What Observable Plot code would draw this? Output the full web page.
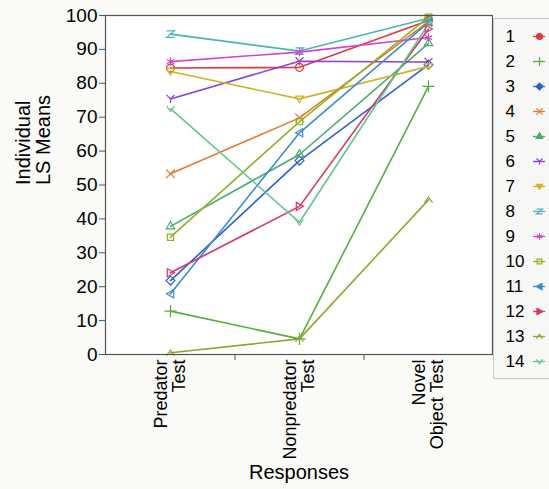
<!DOCTYPE html>
<html><head><meta charset="utf-8">
<script src="https://cdn.jsdelivr.net/npm/d3@7"></script>
<script src="https://cdn.jsdelivr.net/npm/@observablehq/plot@0.6"></script>
<style>
body{margin:0;background:#fafaf7;font-family:"Liberation Sans",Arial,sans-serif;}
#wrap{position:relative;width:549px;height:489px;overflow:hidden;}
#wrap > svg{position:absolute;left:0;top:0;}
#legend{position:absolute;left:493px;top:15px;width:56px;}
#legend svg{max-width:none;}
</style></head><body><div id="wrap"><div id="legend"></div></div>
<script>
const responses = ["Predator\nTest", "Nonpredator\nTest", "Novel\nObject Test"];
const subjects = ["1","2","3","4","5","6","7","8","9","10","11","12","13","14"];
const predator    = [84.5, 12.8, 21.8, 53.3, 37.8, 75.4, 83.5, 94.5, 86.4, 34.6, 17.9, 24.1, 0.5, 72.5];
const nonpredator = [84.7,  4.6, 57.2, 69.8, 59.0, 86.5, 75.4, 89.5, 89.2, 68.7, 65.4, 43.7, 4.6, 39.0];
const novel       = [98.5, 79.1, 85.5, 98.2, 91.8, 86.3, 85.0, 99.2, 93.5, 99.5, 98.0, 96.0, 45.6, 97.5];
const colors = ["#e0393e","#52b13a","#2f5fd6","#e8792d","#43ad6c","#8b3fe0","#cdb52a","#4ab5b3","#d245d2","#8fb423","#3a8cd4","#d93468","#9ca22d","#5dc98b"];
const filledInLegend = ["1","3","5","7","11","12"];

const sym = f => ({draw(c, size){ const r = Math.sqrt(size / Math.PI); f(c, r); }});
const symY = sym((c,r)=>{c.moveTo(-r,-r);c.lineTo(0,0);c.lineTo(r,-r);c.moveTo(0,0);c.lineTo(0,r);});
const symDown = sym((c,r)=>{c.moveTo(-r,-r*0.7);c.lineTo(r,-r*0.7);c.lineTo(0,r*0.9);c.closePath();});
const symZ = sym((c,r)=>{c.moveTo(-r,-r*0.8);c.lineTo(r,-r*0.8);c.lineTo(-r,r*0.8);c.lineTo(r,r*0.8);});
const symLeft = sym((c,r)=>{c.moveTo(-r,0);c.lineTo(r*0.8,-r);c.lineTo(r*0.8,r);c.closePath();});
const symRight = sym((c,r)=>{c.moveTo(r,0);c.lineTo(-r*0.8,-r);c.lineTo(-r*0.8,r);c.closePath();});
const symCaret = sym((c,r)=>{c.moveTo(-r,r*0.7);c.lineTo(0,-r*0.7);c.lineTo(r,r*0.7);});
const symV = sym((c,r)=>{c.moveTo(-r,-r*0.7);c.lineTo(0,r*0.7);c.lineTo(r,-r*0.7);});
const symbols = ["circle","plus","diamond2","times","triangle2",symY,symDown,symZ,"asterisk","square2",symLeft,symRight,symCaret,symV];

const rows = subjects.flatMap((s, i) =>
  [predator[i], nonpredator[i], novel[i]].map((v, j) => ({subject: s, response: responses[j], value: v})));

const font = "Liberation Sans, Arial, sans-serif";

const chart = Plot.plot({
  width: 549, height: 489,
  marginLeft: 105, marginRight: 57, marginTop: 15, marginBottom: 135,
  style: {background: "transparent", fontFamily: font, color: "#000", overflow: "visible"},
  x: {type: "point", domain: responses, padding: 0.5, label: null},
  y: {domain: [0, 100], label: null},
  color: {domain: subjects, range: colors},
  symbol: {domain: subjects, range: symbols},
  marks: [
    Plot.frame({fill: "white", stroke: null}),
    Plot.axisY({ticks: d3.range(0, 101, 10), tickSize: 6, tickPadding: 2, fontSize: 19, label: null, stroke: "#555"}),
    Plot.axisX({tickRotate: -90, tickSize: 0, tickPadding: 5, fontSize: 18, label: null}),
    Plot.ruleX(responses.slice(1), {x: d => d, dx: -64.5, y1: 0, y2: -1.8, stroke: "#555", clip: false}),
    Plot.line(rows, {x: "response", y: "value", z: "subject", stroke: "subject", strokeWidth: 1.6}),
    Plot.dot(rows, {x: "response", y: "value", symbol: "subject", stroke: "subject", r: 4, strokeWidth: 1.2}),
    Plot.frame({stroke: "#555", strokeWidth: 1.2}),
    Plot.text(["Individual\nLS Means"], {text: d => d, frameAnchor: "left", rotate: -90, dx: -72, fontSize: 20}),
    Plot.text(["Responses"], {text: d => d, frameAnchor: "bottom", dy: 124, fontSize: 20})
  ]
});
document.getElementById("wrap").prepend(chart);

const legend = Plot.plot({
  width: 60, height: 366, marginTop: 3, marginBottom: 3, marginLeft: 0, marginRight: 0,
  style: {background: "#f7f7f5", fontFamily: font, color: "#000", maxWidth: "none"},
  x: {axis: null, domain: [0, 60]},
  y: {type: "point", domain: subjects, padding: 0.5, axis: null},
  color: {domain: subjects, range: colors},
  symbol: {domain: subjects, range: symbols},
  marks: [
    Plot.frame({stroke: "#c8c8c8"}),
    Plot.text(subjects, {y: d => d, x: 12, text: d => d, textAnchor: "start", fontSize: 17}),
    Plot.ruleY(subjects, {y: d => d, x1: 40, x2: 52, stroke: d => d, strokeWidth: 1.3}),
    Plot.dot(subjects, {y: d => d, x: 46, symbol: d => d, stroke: d => d, r: 3, strokeWidth: 1.2}),
    Plot.dot(filledInLegend, {y: d => d, x: 46, symbol: d => d, fill: d => d, stroke: d => d, r: 2.5})
  ]
});
document.getElementById("legend").append(legend);
</script></body></html>
